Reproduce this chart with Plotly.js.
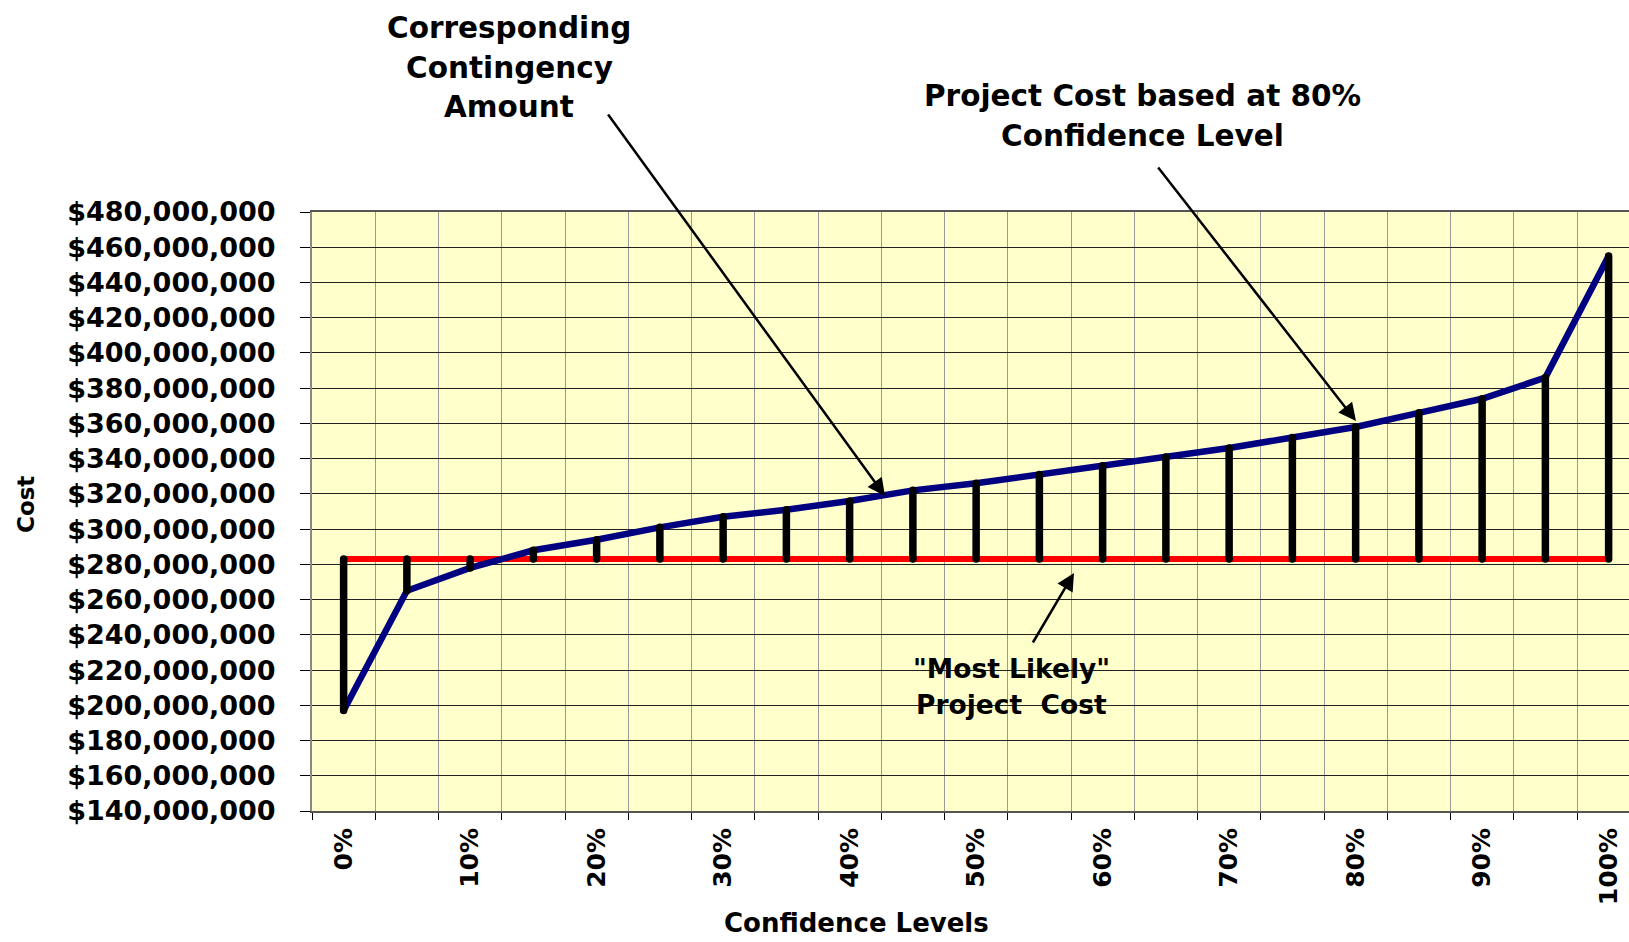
<!DOCTYPE html>
<html>
<head>
<meta charset="utf-8">
<script src="https://cdn.plot.ly/plotly-3.0.1.min.js"></script>
<style>
html,body{margin:0;padding:0;background:#ffffff;}
#chart .scatterlayer .js-line{stroke-linecap:round;}
</style>
</head>
<body>
<div id="chart" style="width:1629px;height:942px;"></div>
<script>
// ---- data ----
const confidenceLevels = [0,5,10,15,20,25,30,35,40,45,50,55,60,65,70,75,80,85,90,95,100];
const projectCostM = [197,265,278,288,294,301,307,311,316,322,326,331,336,341,346,352,358,366,374,386,455];
const mostLikelyCostM = 283;
const xTickValues = [0,10,20,30,40,50,60,70,80,90,100];
const xTickLabels = ['0%','10%','20%','30%','40%','50%','60%','70%','80%','90%','100%'];

const projectCost = projectCostM.map(v => v * 1e6);
const mostLikely = confidenceLevels.map(() => mostLikelyCostM * 1e6);

// vertical contingency bars from "most likely" up/down to the curve
const barX = [], barY = [];
confidenceLevels.forEach((lv, i) => {
  barX.push(lv, lv, null);
  barY.push(mostLikelyCostM * 1e6, projectCost[i], null);
});

const FONT = 'DejaVu Sans';
const M = {l: 312, r: 0, t: 212, b: 131};
const W = 1629, H = 942;
const PW = W - M.l - M.r, PH = H - M.t - M.b;
const px = x => (x - M.l) / PW;
const py = y => (H - M.b - y) / PH;

const traces = [
  {x: confidenceLevels, y: mostLikely, mode: 'lines', line: {color: '#ff0000', width: 6}, hoverinfo: 'skip'},
  {x: confidenceLevels, y: projectCost, mode: 'lines', line: {color: '#000080', width: 6.5}, hoverinfo: 'skip'},
  {x: barX, y: barY, mode: 'lines', line: {color: '#000000', width: 7.5}, connectgaps: false, hoverinfo: 'skip'}
];

function txt(text, x, y, size) {
  return {text: text, xref: 'paper', yref: 'paper', x: px(x), y: py(y), xanchor: 'center', yanchor: 'middle',
          showarrow: false, borderpad: 0, font: {family: FONT, size: size, color: '#000', weight: 700}};
}
function arrow(tipX, tipY, ax, ay) {
  return {text: '', xref: 'paper', yref: 'paper', x: px(tipX), y: py(tipY), ax: ax, ay: ay,
          showarrow: true, arrowhead: 2, arrowsize: 1.4, arrowwidth: 2.5, arrowcolor: '#000', standoff: 0, startstandoff: 0};
}

const layout = {
  width: W, height: H,
  margin: M,
  paper_bgcolor: '#ffffff',
  plot_bgcolor: '#ffffcc',
  showlegend: false,
  hovermode: false,
  xaxis: {
    range: [-2.5, -2.5 + PW / 63.25 * 5],
    tickmode: 'array', tickvals: xTickValues, ticktext: xTickLabels,
    ticks: '', tickangle: -90, showgrid: false, zeroline: false,
    ticklabelstandoff: 5,
    tickfont: {family: FONT, size: 25, color: '#000', weight: 700},
    showline: true, linecolor: '#555555', linewidth: 2, mirror: true,
    minor: {tick0: -2.5, dtick: 5, ticks: 'outside', ticklen: 7, tickwidth: 1, tickcolor: '#000',
            showgrid: true, gridcolor: '#999999', gridwidth: 1}
  },
  yaxis: {
    range: [140e6, 480e6], tick0: 140e6, dtick: 20e6,
    tickprefix: '$', tickformat: ',.0f',
    ticks: 'outside', ticklen: 10, tickcolor: '#000', tickwidth: 1,
    ticklabelstandoff: 19,
    tickfont: {family: FONT, size: 27, color: '#000', weight: 700},
    showgrid: true, gridcolor: '#222222', gridwidth: 1, zeroline: false,
    showline: true, linecolor: '#888888', linewidth: 2
  },
  annotations: [
    txt('Corresponding', 509, 28, 29.5),
    txt('Contingency', 509, 68, 29.5),
    txt('Amount', 509, 107, 29.5),
    txt('Project Cost based at 80%', 1142, 96, 29.5),
    txt('Confidence Level', 1142, 136, 29.5),
    txt('"Most Likely"', 1012, 668, 26.5),
    txt('Project  Cost', 1012, 704, 26.5),
    txt('Confidence Levels', 856, 923, 26),
    Object.assign(txt('Cost', 26, 505, 23), {textangle: -90}),
    arrow(885, 496, -278, -383),
    arrow(1356, 421, -199, -255),
    arrow(1074, 573, -42, 71)
  ]
};

Plotly.newPlot('chart', traces, layout, {displayModeBar: false, staticPlot: true});
</script>
</body>
</html>
